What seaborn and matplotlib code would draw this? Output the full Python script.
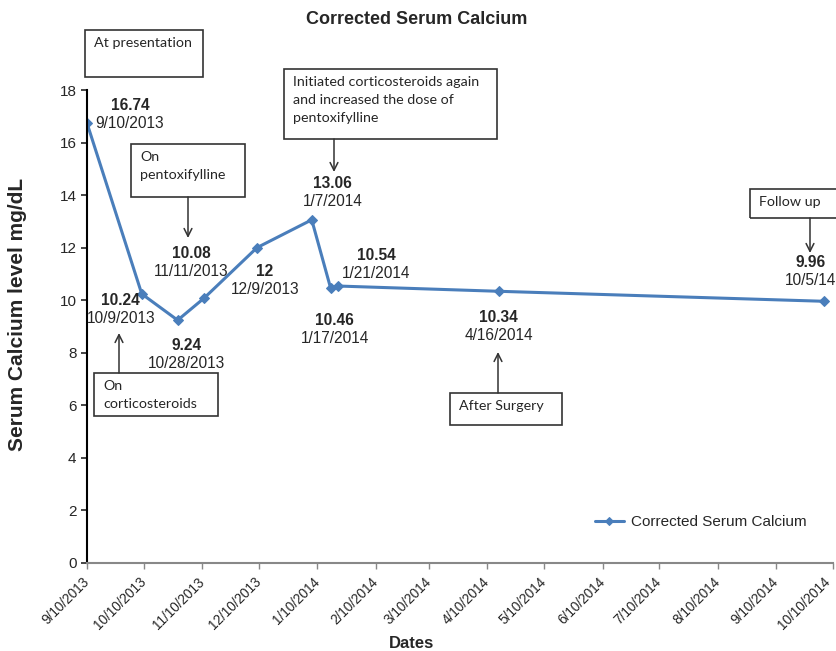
import pandas as pd
import matplotlib.pyplot as plt
from matplotlib.patches import Rectangle
from matplotlib.transforms import ScaledTranslation
import seaborn as sns

# data
dates = ['2013-09-10', '2013-10-09', '2013-10-28', '2013-11-11', '2013-12-09',
         '2014-01-07', '2014-01-17', '2014-01-21', '2014-04-16', '2014-10-05']
values = [16.74, 10.24, 9.24, 10.08, 12, 13.06, 10.46, 10.54, 10.34, 9.96]
date_labels = ['9/10/2013', '10/9/2013', '10/28/2013', '11/11/2013', '12/9/2013',
               '1/7/2014', '1/17/2014', '1/21/2014', '4/16/2014', '10/5/14']
value_labels = ['16.74', '10.24', '9.24', '10.08', '12',
                '13.06', '10.46', '10.54', '10.34', '9.96']
tick_dates = pd.date_range('2013-09-10', periods=14, freq=pd.DateOffset(months=1))

df = pd.DataFrame({'date': pd.to_datetime(dates), 'calcium': values})

sns.set_style('white')
plt.rcParams['font.family'] = ['Liberation Sans', 'DejaVu Sans']

W, H = 836, 651
fig = plt.figure(figsize=(W / 100, H / 100), dpi=100)
ax = fig.add_axes([87 / W, 1 - 563 / H, (833 - 87) / W, (563 - 90) / H])

color = '#4A7EBB'
sns.lineplot(data=df, x='date', y='calcium', ax=ax, color=color, lw=2.2,
             marker='D', markersize=5, markeredgecolor=color,
             label='Corrected Serum Calcium')

ax.set_xlim(tick_dates[0], tick_dates[-1])
ax.set_ylim(0, 18)
ax.set_yticks(range(0, 19, 2))
ax.set_xticks(tick_dates)
ax.set_xticklabels([f'{d.month}/{d.day}/{d.year}' for d in tick_dates],
                   rotation=45, ha='right', va='center', rotation_mode='anchor',
                   fontsize=9.8)
ax.tick_params(axis='y', labelsize=11, length=4, width=1.2, direction='out', left=True)
ax.tick_params(axis='x', length=4, width=1, color='#888888', direction='out', bottom=True,
               pad=8)
# nudge the last label so it stays inside the picture
last = ax.get_xticklabels()[-1]
last.set_transform(last.get_transform() + ScaledTranslation(-5 / 100, 0, fig.dpi_scale_trans))
for s in ['top', 'right']:
    ax.spines[s].set_visible(False)
ax.spines['left'].set_color('black')
ax.spines['left'].set_linewidth(1.5)
ax.spines['bottom'].set_color('#888888')
ax.spines['bottom'].set_linewidth(1.5)

ax.set_xlabel('Dates', fontsize=12, fontweight='bold')
ax.xaxis.set_label_coords((412 - 87) / 746, -(636 - 563) / 473)
ax.set_ylabel('Serum Calcium level mg/dL', fontsize=15, fontweight='bold')
ax.yaxis.set_label_coords(-(87 - 27) / 746, 0.525)
fig.text(417 / W, 1 - 20 / H, 'Corrected Serum Calcium', ha='center', va='center',
         fontsize=13, fontweight='bold')

# point labels (offsets in pixels from each point)
offsets = [(43, 18), (-21, -7), (9, -25), (-13, 45), (8, -24),
           (21, 36), (4, -32), (38, 31), (0, -26), (-13, 39)]
for d, v, vl, dl, (dx, dy) in zip(df['date'], values, value_labels, date_labels, offsets):
    ax.annotate(vl, (d, v), xytext=(dx, dy), textcoords='offset pixels',
                ha='center', va='center', fontsize=11.2, fontweight='bold')
    ax.annotate(dl, (d, v), xytext=(dx, dy - 18), textcoords='offset pixels',
                ha='center', va='center', fontsize=11.2)

# callout boxes: (x0, y0, x1, y1, text) in image pixels
boxes = [
    (85, 30, 203, 77, 'At presentation'),
    (131, 144, 245, 197, 'On\npentoxifylline'),
    (284, 69, 497, 139, 'Initiated corticosteroids again\nand increased the dose of\npentoxifylline'),
    (94, 373, 218, 416, 'On\ncorticosteroids'),
    (450, 393, 562, 425, 'After Surgery'),
    (750, 189, 850, 218, 'Follow up'),
]
for x0, y0, x1, y1, txt in boxes:
    fig.add_artist(Rectangle((x0 / W, 1 - y1 / H), (x1 - x0) / W, (y1 - y0) / H,
                             transform=fig.transFigure, fill=False,
                             edgecolor='#333333', lw=1.2))
    fig.text((x0 + 9) / W, 1 - (y0 + 7) / H, txt, ha='left', va='top',
             fontsize=10.3, family=['Lato', 'DejaVu Sans'], linespacing=1.6)

# arrows: (x_start, y_start, x_end, y_end) in image pixels
arrows = [(188, 197, 188, 238), (334, 139, 334, 172), (119, 373, 119, 333),
          (498, 393, 498, 352), (810, 218, 810, 253)]
for xs, ys, xe, ye in arrows:
    ax.annotate('', xy=(xe, H - ye), xycoords='figure pixels',
                xytext=(xs, H - ys), textcoords='figure pixels',
                arrowprops=dict(arrowstyle='->', color='#333333', lw=1.1,
                                mutation_scale=14, shrinkA=0, shrinkB=0))

ax.legend(loc='center left', bbox_to_anchor=(494 / 746, 41 / 473), frameon=False,
          fontsize=11, handlelength=1.9, handletextpad=0.5, markerscale=0.8)

fig.savefig('out.png', dpi=100)
